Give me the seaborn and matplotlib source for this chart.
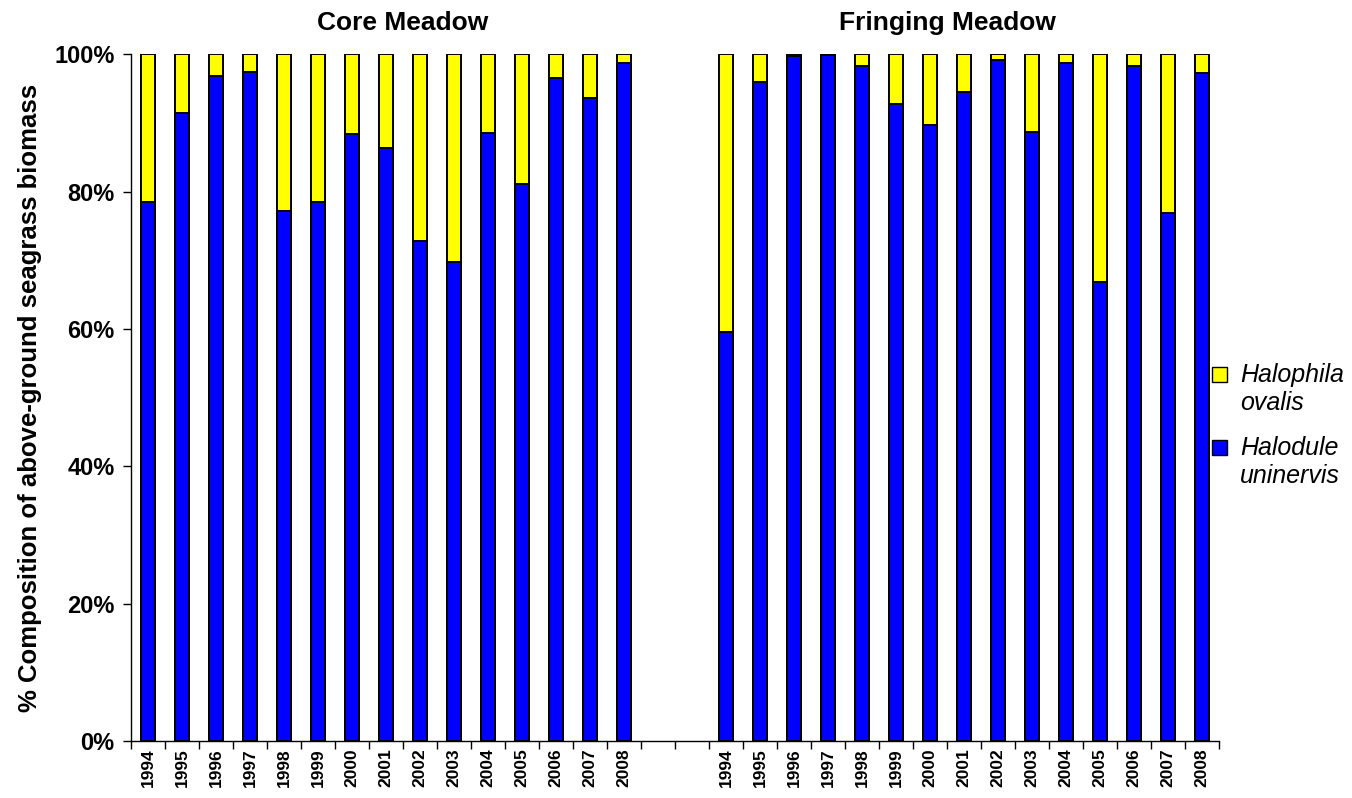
import pandas as pd
import matplotlib.pyplot as plt
import seaborn as sns
from matplotlib.patches import Rectangle
from matplotlib.ticker import PercentFormatter, MultipleLocator

# years and % Halodule uninervis (rest is Halophila ovalis)
years = [str(y) for y in range(1994, 2009)]
core_halodule = [78.5, 91.4, 96.8, 97.4, 77.2, 78.5, 88.4, 86.4, 72.8, 69.7, 88.6, 81.1, 96.5, 93.7, 98.7]
fringing_halodule = [59.6, 95.9, 99.75, 99.9, 98.3, 92.7, 89.7, 94.5, 99.2, 88.7, 98.8, 66.9, 98.3, 76.9, 97.2]
meadows = ["Core Meadow", "Fringing Meadow"]
species = ["Halophila\novalis", "Halodule\nuninervis"]
colors = ["#FFFF00", "#0000FF"]
n_gap = 2

# build table
rows = []
for m, vals in zip(meadows, [core_halodule, fringing_halodule]):
    for y, v in zip(years, vals):
        rows.append({"pos": m[0] + y, "year": y, "halodule": v, "total": 100.0})
df = pd.DataFrame(rows)

order = ["C" + y for y in years] + ["gap%d" % i for i in range(n_gap)] + ["F" + y for y in years]
labels = years + [""] * n_gap + years

sns.set_style("white")
plt.rcParams['font.family'] = ['Liberation Sans', 'DejaVu Sans']
plt.rcParams['text.color'] = 'black'
plt.rcParams['axes.labelcolor'] = 'black'
plt.rcParams['xtick.color'] = 'black'
plt.rcParams['ytick.color'] = 'black'

fig = plt.figure(figsize=(13.52, 7.98), dpi=100)
ax = fig.add_axes([0.097, 0.0714, 0.8046, 0.8606])

# stacked: full yellow bar, blue share drawn over it
sns.barplot(data=df, x="pos", y="total", order=order, color=colors[0],
            edgecolor="black", linewidth=1.4, width=0.42, saturation=1, ax=ax)
sns.barplot(data=df, x="pos", y="halodule", order=order, color=colors[1],
            edgecolor="black", linewidth=1.4, width=0.42, saturation=1, ax=ax)

ax.set_xlim(-0.5, len(order) - 0.5)
ax.set_ylim(0, 100)
ax.yaxis.set_major_locator(MultipleLocator(20))
ax.yaxis.set_major_formatter(PercentFormatter(decimals=0))

ax.set_xticks(range(len(order)))
ax.set_xticklabels(labels, rotation=90, fontsize=12.5, fontweight="bold")
ax.set_xticks([i - 0.5 for i in range(len(order) + 1)], minor=True)
ax.tick_params(axis="x", which="major", bottom=True, length=0, pad=5)
ax.tick_params(axis="x", which="minor", bottom=True, length=6, width=1, direction="out")
ax.tick_params(axis="y", left=True, length=6, width=1, direction="out", labelsize=17, pad=6)
for t in ax.get_yticklabels():
    t.set_fontweight("bold")

ax.set_xlabel("")
ax.set_ylabel("% Composition of above-ground seagrass biomass", fontsize=18.5, fontweight="bold", labelpad=9)

sns.despine(ax=ax)
for s in ["left", "bottom"]:
    ax.spines[s].set_color("black")
    ax.spines[s].set_linewidth(1)

# meadow titles over each half
ax.text(7.5, 1.045, meadows[0], transform=ax.get_xaxis_transform(), ha="center", va="center",
        fontsize=19, fontweight="bold")
ax.text(23.5, 1.045, meadows[1], transform=ax.get_xaxis_transform(), ha="center", va="center",
        fontsize=19, fontweight="bold")

# legend, patch aligned with first line of each name
for i, (name, c) in enumerate(zip(species, colors)):
    yc = 1 - (374 + 73 * i) / 798
    fig.patches.append(Rectangle((1212 / 1352, yc - 7.5 / 798), 15 / 1352, 15 / 798,
                                 transform=fig.transFigure, facecolor=c, edgecolor="black", lw=1))
    fig.text(1240 / 1352, yc + 11 / 798, name, ha="left", va="top", fontsize=18,
             style="italic", linespacing=1.2)

fig.savefig("out.png", dpi=100)
